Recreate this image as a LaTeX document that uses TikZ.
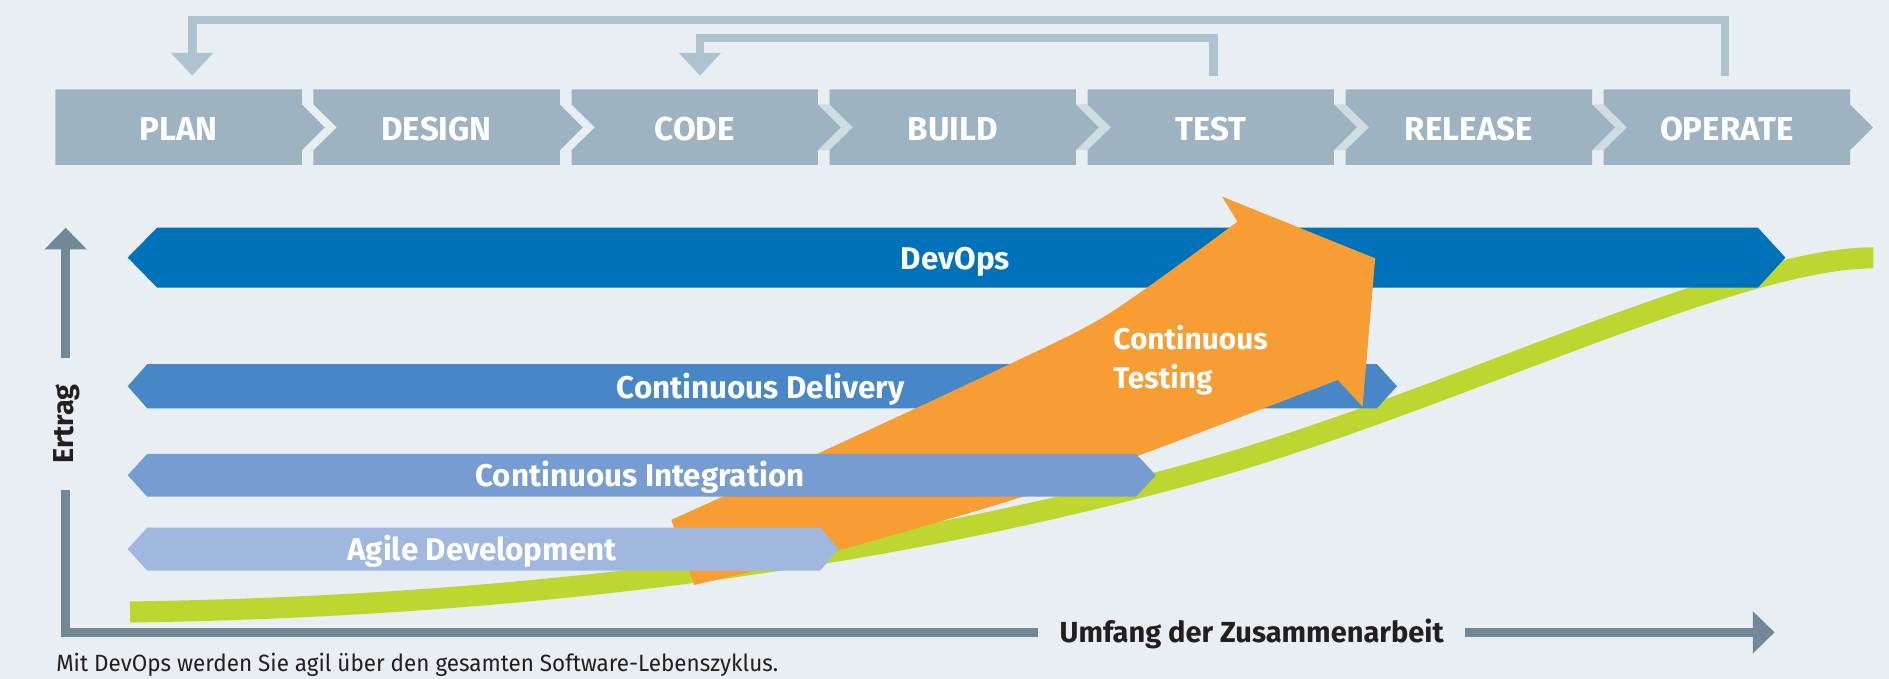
\documentclass[tikz,border=0pt]{standalone}
\usepackage{fontspec}
\setmainfont{Fira Sans}
\newfontfamily\captionfont[FakeStretch=0.955]{Fira Sans}
\usetikzlibrary{arrows.meta}

\definecolor{bg}{HTML}{E8EEF1}
\definecolor{phasegray}{HTML}{9DB3C2}
\definecolor{gaptint}{HTML}{CFDCE2}
\definecolor{fbgray}{HTML}{AEC3D0}
\definecolor{axisgray}{HTML}{738896}
\definecolor{devopsblue}{HTML}{0072BA}
\definecolor{cdblue}{HTML}{4787C7}
\definecolor{ciblue}{HTML}{769CD2}
\definecolor{agileblue}{HTML}{A0B8E0}
\definecolor{testorange}{HTML}{F79D34}
\definecolor{curvegreen}{HTML}{BED730}
\definecolor{textdark}{HTML}{231F20}

\tikzset{
  phase/.style={text=white, font=\fontsize{7.8}{9}\selectfont\bfseries, inner sep=0pt, anchor=base},
  barlabel/.style={text=white, font=\fontsize{7.4}{9}\selectfont\bfseries, inner sep=0pt, anchor=base},
  feedback/.style={draw=fbgray, line width=0.073cm, -{Triangle[width=0.34cm,length=0.19cm]}},
  axistip/.tip={Triangle[width=0.34cm,length=0.18cm]}
}

\begin{document}
\begin{tikzpicture}[x=0.01cm,y=-0.01cm]
\fill[bg] (0,0) rectangle (1568,563.6);
\useasboundingbox (0,0) rectangle (1568,563.6);

\foreach \x in {678.9,893.1,1107.3,1321.5}
  \fill[gaptint] (\x,86.7) -- (\x+9.7,86.7) -- (\x+29.1,105.7) -- (\x+9.7,124.7) -- (\x,124.7) -- (\x+19,105.7) -- cycle;

\fill[phasegray] (46,74.1) -- (250.5,74.1) -- (250.5,86.7) -- (269.5,105.7) -- (250.5,124.7) -- (250.5,136.9) -- (46,136.9) -- cycle;
\foreach \x in {260.2,474.4,688.6,902.8,1117,1331.2}
  \fill[phasegray] (\x,74.1) -- (\x+204.5,74.1) -- (\x+204.5,86.7) -- (\x+223.5,105.7) -- (\x+204.5,124.7) -- (\x+204.5,136.9) -- (\x,136.9) -- (\x,124.7) -- (\x+19.4,105.7) -- (\x,86.7) -- cycle;

\foreach \x/\name in {46/PLAN,260.2/DESIGN,474.4/CODE,688.6/BUILD,902.8/TEST,1117/RELEASE,1331.2/OPERATE}
  \node[phase] (\name) at (\x+102.25,116.7) {\name};

\coordinate (fromOperate) at (1431.8,62.8);
\coordinate (toPlan) at (159.5,62.8);
\coordinate (fromTest) at (1007.5,62.8);
\coordinate (toCode) at (581,62.8);
\draw[feedback] (fromOperate) -- ++(0,-46.2) -| (toPlan);
\draw[feedback] (fromTest) -- ++(0,-31.3) -| (toCode);

\draw[curvegreen, line width=0.175cm] (108,508) .. controls (450,503) and (750,460) .. (1000,390) .. controls (1200,334) and (1440,214) .. (1555,214);

\fill[devopsblue] (106,213.8) -- (130.4,189) -- (1459.2,189) -- (1482,213.8) -- (1459.2,238.7) -- (130.4,238.7) -- cycle;
\fill[cdblue] (106,320.6) -- (122.2,302.3) -- (1143,302.3) -- (1159.6,320.6) -- (1143,338.9) -- (122.2,338.9) -- cycle;

\fill[testorange] (576.3,485.5) -- plot[smooth] coordinates {(557.2,431.5) (680,376) (836.6,303) (921,260) (1027.2,184)} -- (1014.4,163.2) -- (1141.5,214.4) -- (1131,337.5) -- plot[smooth] coordinates {(1110.5,315.4) (946.7,377.6) (849.4,412.2) (697,456.4) (576.3,485.5)} -- cycle;

\fill[ciblue] (106,394.5) -- (122.2,376.8) -- (943,376.8) -- (959.5,394.5) -- (943,412.2) -- (122.2,412.2) -- cycle;
\fill[agileblue] (106,455.7) -- (122.2,437.9) -- (680.8,437.9) -- (696,455.7) -- (680.8,473.6) -- (122.2,473.6) -- cycle;

\node[barlabel] (devops) at (793,224) {DevOps};
\node[barlabel] (delivery) at (631.3,330.6) {Continuous Delivery};
\node[barlabel] (integration) at (531.2,403.9) {Continuous Integration};
\node[barlabel] (agile) at (400.1,465.6) {Agile Development};
\node[barlabel, anchor=base west, font=\fontsize{7.05}{8}\selectfont\bfseries] (testing1) at (923.5,290.5) {Continuous};
\node[barlabel, anchor=base west, font=\fontsize{7.05}{8}\selectfont\bfseries] (testing2) at (923.5,322.3) {Testing};

\coordinate (ytip) at (54.5,189);
\coordinate (xtip) at (1473,524.9);
\draw[axisgray, line width=0.07cm, {axistip}-{axistip}] (ytip) |- (xtip);
\node[fill=bg, rotate=90, minimum width=1.09cm, minimum height=0.3cm, inner sep=0pt, text=textdark, font=\fontsize{6.8}{8}\selectfont\bfseries] (ertrag) at (55.5,352) {Ertrag};
\node[fill=bg, minimum width=3.54cm, minimum height=0.3cm, inner sep=0pt, text=textdark, font=\fontsize{6.85}{8}\selectfont\bfseries] (umfang) at (1039,526.3) {Umfang der Zusammenarbeit};

\node[anchor=base west, inner sep=0pt, text=textdark, font=\fontsize{5.55}{7}\captionfont] (caption) at (46,557.4) {Mit DevOps werden Sie agil über den gesamten Software-Lebenszyklus.};
\end{tikzpicture}
\end{document}
